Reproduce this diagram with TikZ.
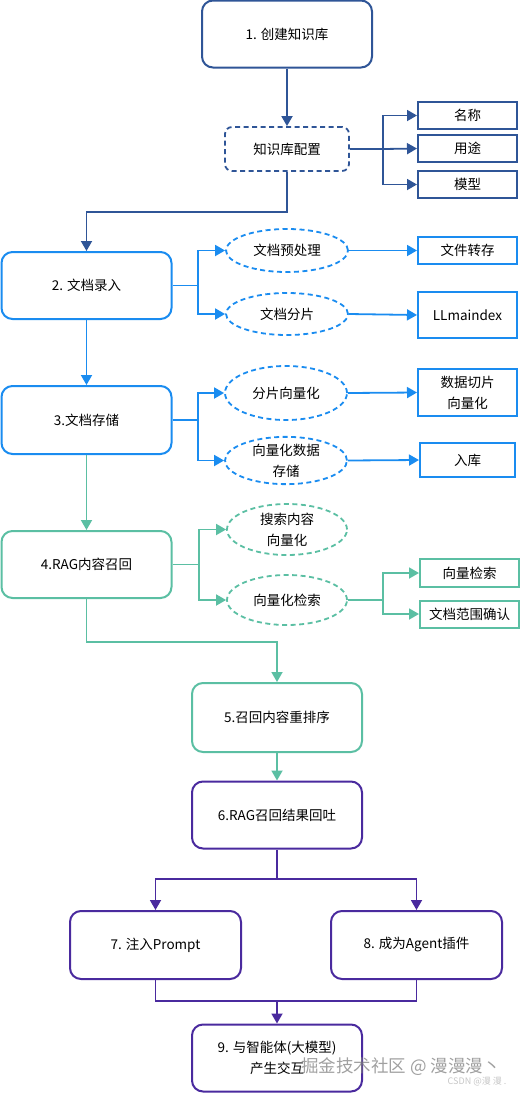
\documentclass[tikz,border=0pt]{standalone}
\usepackage{fontspec}
\setmainfont{Noto Sans CJK SC}
\usetikzlibrary{arrows.meta,shapes.geometric}
\definecolor{cnavy}{HTML}{2F5597}
\definecolor{cblue}{HTML}{1A8CF0}
\definecolor{cteal}{HTML}{5BBFA3}
\definecolor{cpurp}{HTML}{4A2A9E}
\tikzset{
  txt/.style={font=\fontsize{13.5}{21}\selectfont, text=black, align=center, inner sep=0pt},
  bigbox/.style={txt, draw=#1, line width=2pt, rounded corners=11pt, minimum width=170pt, minimum height=67pt},
  cfgbox/.style={txt, draw=#1, line width=1.8pt, dash pattern=on 5pt off 3.5pt, rounded corners=7pt, minimum width=124pt, minimum height=44pt},
  sidebox/.style={txt, draw=#1, line width=2pt, minimum width=99pt, minimum height=27pt},
  oval/.style={txt, ellipse, draw=#1, line width=1.8pt, dash pattern=on 5pt off 3.5pt, minimum width=122pt, minimum height=43pt},
  conn/.style={draw=#1, line width=1.8pt, -{Triangle[length=10pt,width=11pt]}},
  plain/.style={draw=#1, line width=1.8pt},
}
\begin{document}
\begin{tikzpicture}[x=1pt,y=-1pt]
\useasboundingbox (0,0) rectangle (520,1093);
% top level
\node[bigbox=cnavy] (n1) at (287,34) {1. 创建知识库};
\node[cfgbox=cnavy] (cfg) at (287,149) {知识库配置};
\node[sidebox=cnavy] (mc) at (467.5,115.5) {名称};
\node[sidebox=cnavy] (yt) at (467.5,148.5) {用途};
\node[sidebox=cnavy] (mx) at (467.5,184.5) {模型};
% step 2
\node[bigbox=cblue] (n2) at (86.5,285.5) {2. 文档录入};
\node[oval=cblue] (e1) at (287,250.5) {文档预处理};
\node[oval=cblue, minimum height=42pt] (e2) at (287,314) {文档分片};
\node[sidebox=cblue] (b1) at (467.5,250.5) {文件转存};
\node[sidebox=cblue, minimum height=46pt] (b2) at (467.5,315) {LLmaindex};
% step 3
\node[bigbox=cblue, minimum height=68pt] (n3) at (86.5,420) {3.文档存储};
\node[oval=cblue, minimum height=54pt] (e3) at (286,393) {分片向量化};
\node[oval=cblue] (e4) at (286,460.5) {向量化数据\\存储};
\node[sidebox=cblue, minimum height=47pt] (b3) at (467.5,392.5) {数据切片\\向量化};
\node[sidebox=cblue, minimum width=95pt, minimum height=34pt] (b4) at (467.5,460) {入库};
% step 4
\node[bigbox=cteal] (n4) at (86.5,564.5) {4.RAG内容召回};
\node[oval=cteal, minimum width=120pt, minimum height=51pt] (e5) at (287,529.5) {搜索内容\\向量化};
\node[oval=cteal, minimum width=120pt, minimum height=50pt] (e6) at (287,600) {向量化检索};
\node[sidebox=cteal, minimum height=28pt] (b5) at (469.5,573) {向量检索};
\node[sidebox=cteal] (b6) at (469.5,614) {文档范围确认};
% steps 5-9
\node[bigbox=cteal, minimum height=69pt] (n5) at (277,717.5) {5.召回内容重排序};
\node[bigbox=cpurp] (n6) at (277,815) {6.RAG召回结果回吐};
\node[bigbox=cpurp, minimum width=171pt, minimum height=68pt] (n7) at (155.5,945) {7. 注入Prompt};
\node[bigbox=cpurp, minimum width=171pt, minimum height=68pt] (n8) at (416.5,945) {8. 成为Agent插件};
\node[bigbox=cpurp] (n9) at (277,1058) {9. 与智能体(大模型)\\产生交互};
% connectors: navy
\coordinate (j1) at (383,149);
\draw[conn=cnavy] (n1.south) -- (cfg.north);
\draw[plain=cnavy] (cfg.east) -- (j1);
\draw[conn=cnavy] (j1) |- (mc.west);
\draw[conn=cnavy] (j1) -- (yt.west);
\draw[conn=cnavy] (j1) |- (mx.west);
\draw[conn=cnavy] (cfg.south) -- ++(0,40) -| (n2.north);
% connectors: blue
\coordinate (j2) at (198,285.5);
\draw[plain=cblue] (n2.east) -- (j2);
\draw[conn=cblue] (j2) |- (e1.west);
\draw[conn=cblue] (j2) |- (e2.west);
\draw[conn=cblue] (e1.east) -- (b1.west);
\draw[conn=cblue] (e2.east) -- (b2.west);
\draw[conn=cblue] (n2.south) -- (n3.north);
\coordinate (j3) at (198,420);
\draw[plain=cblue] (n3.east) -- (j3);
\draw[conn=cblue] (j3) |- (e3.west);
\draw[conn=cblue] (j3) |- (e4.west);
\draw[conn=cblue] (e3.east) -- (b3.west);
\draw[conn=cblue] (e4.east) -- (b4.west);
% connectors: teal
\draw[conn=cteal] (n3.south) -- (n4.north);
\coordinate (j4) at (199,564.5);
\draw[plain=cteal] (n4.east) -- (j4);
\draw[conn=cteal] (j4) |- (e5.west);
\draw[conn=cteal] (j4) |- (e6.west);
\coordinate (j5) at (383,600);
\draw[plain=cteal] (e6.east) -- (j5);
\draw[conn=cteal] (j5) |- (b5.west);
\draw[conn=cteal] (j5) |- (b6.west);
\draw[conn=cteal] (n4.south) -- ++(0,43) -| (n5.north);
\draw[conn=cteal] (n5.south) -- (n6.north);
% connectors: purple
\coordinate (j6) at (277,879);
\coordinate (j7) at (277,1001);
\draw[plain=cpurp] (n6.south) -- (j6);
\draw[conn=cpurp] (j6) -| (n7.north);
\draw[conn=cpurp] (j6) -| (n8.north);
\draw[plain=cpurp] (n7.south) |- (j7) -| (n8.south);
\draw[conn=cpurp] (j7) -- (n9.north);
% watermark
\node[font=\fontsize{17.5}{20}\selectfont, text=gray, opacity=0.75, inner sep=0pt] (wm) at (401,1067) {掘金技术社区 @ 漫漫漫丶};
\node[font=\fontsize{9}{10}\selectfont, text=gray!45, inner sep=0pt] (wm2) at (477,1082) {CSDN @漫 漫 .};
\end{tikzpicture}
\end{document}
